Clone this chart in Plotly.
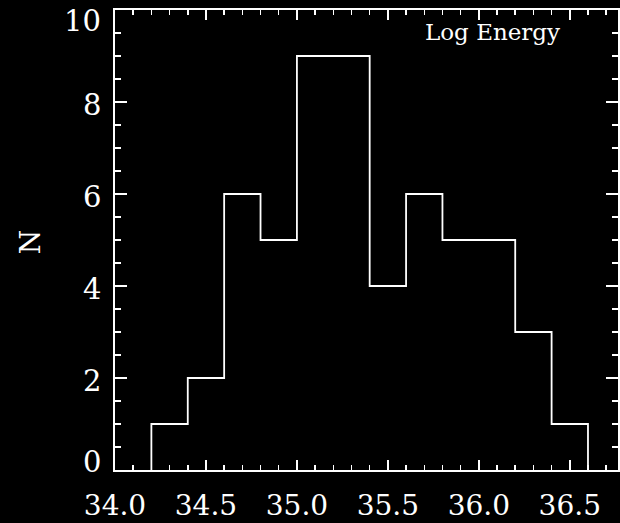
import plotly.graph_objects as go

# Histogram data (bin edges in log energy, counts per bin)
bin_edges = [34.2, 34.4, 34.6, 34.8, 35.0, 35.2, 35.4, 35.6, 35.8, 36.0, 36.2, 36.4, 36.6]
counts = [1, 2, 6, 5, 9, 9, 4, 6, 5, 5, 3, 1]
y_tick_values = [0, 2, 4, 6, 8, 10]
y_tick_labels = ["0", "2", "4", "6", "8", "10"]
label_text = "Log Energy"
y_title = "N"

xs = [bin_edges[0]] + bin_edges
ys = [0] + counts + [0]

FONT = "DejaVu Serif"
WHITE = "#ffffff"
Y_MIN, Y_MAX = 0, 10

fig = go.Figure()
fig.add_trace(go.Scatter(
    x=xs, y=ys, mode="lines", line=dict(shape="hv", color=WHITE, width=1.8),
    hoverinfo="skip", showlegend=False,
))

# IDL-style y tick labels: end labels nudged inside the axis extent
annotations = []
for v, t in zip(y_tick_values, y_tick_labels):
    if v == Y_MIN:
        shift = 8
    elif v == Y_MAX:
        shift = -11
    else:
        shift = -3
    annotations.append(dict(
        text=t, xref="paper", yref="y", x=0, y=v, xanchor="right", yanchor="middle",
        xshift=-12, yshift=shift, showarrow=False,
        font=dict(family=FONT, size=29, color=WHITE),
    ))

annotations += [
    dict(text=label_text, xref="paper", yref="paper", x=0.751, y=0.952,
         xanchor="center", yanchor="middle", showarrow=False,
         font=dict(family=FONT, size=23, color=WHITE)),
    dict(text=y_title, xref="paper", yref="paper", x=-0.168, y=0.496,
         xanchor="center", yanchor="middle", showarrow=False, textangle=-90,
         font=dict(family=FONT, size=28, color=WHITE)),
]

fig.update_layout(
    width=620, height=523,
    paper_bgcolor="black", plot_bgcolor="black",
    margin=dict(l=115, r=2, t=10, b=53, autoexpand=False),
    font=dict(family=FONT, color=WHITE),
    showlegend=False,
    annotations=annotations,
)

fig.update_xaxes(
    range=[34.0, 36.765], dtick=0.5, tick0=34.0, tickformat=".1f",
    showgrid=False, zeroline=False, automargin=False,
    showline=True, linecolor=WHITE, linewidth=1.8, mirror="allticks",
    ticks="inside", ticklen=10, tickwidth=1.5, tickcolor=WHITE,
    tickfont=dict(family=FONT, size=28, color=WHITE), ticklabelstandoff=10,
    ticklabeloverflow="allow",
    minor=dict(dtick=0.1, tick0=34.0, ticks="inside", ticklen=5, tickwidth=1.5, tickcolor=WHITE, showgrid=False),
)
fig.update_yaxes(
    range=[Y_MIN, Y_MAX], tickvals=y_tick_values, showticklabels=False,
    showgrid=False, zeroline=False, automargin=False,
    showline=True, linecolor=WHITE, linewidth=1.8, mirror="allticks",
    ticks="inside", ticklen=12, tickwidth=1.5, tickcolor=WHITE,
    minor=dict(dtick=0.5, tick0=0, ticks="inside", ticklen=6, tickwidth=1.5, tickcolor=WHITE, showgrid=False),
)

fig.write_html(
    "out.html",
    config={"displayModeBar": False, "staticPlot": True},
    post_script=(
        "document.body.style.margin='0px';"
        "document.body.style.overflow='hidden';"
        "document.documentElement.style.overflow='hidden';"
        "document.body.style.background='black';"
    ),
)
